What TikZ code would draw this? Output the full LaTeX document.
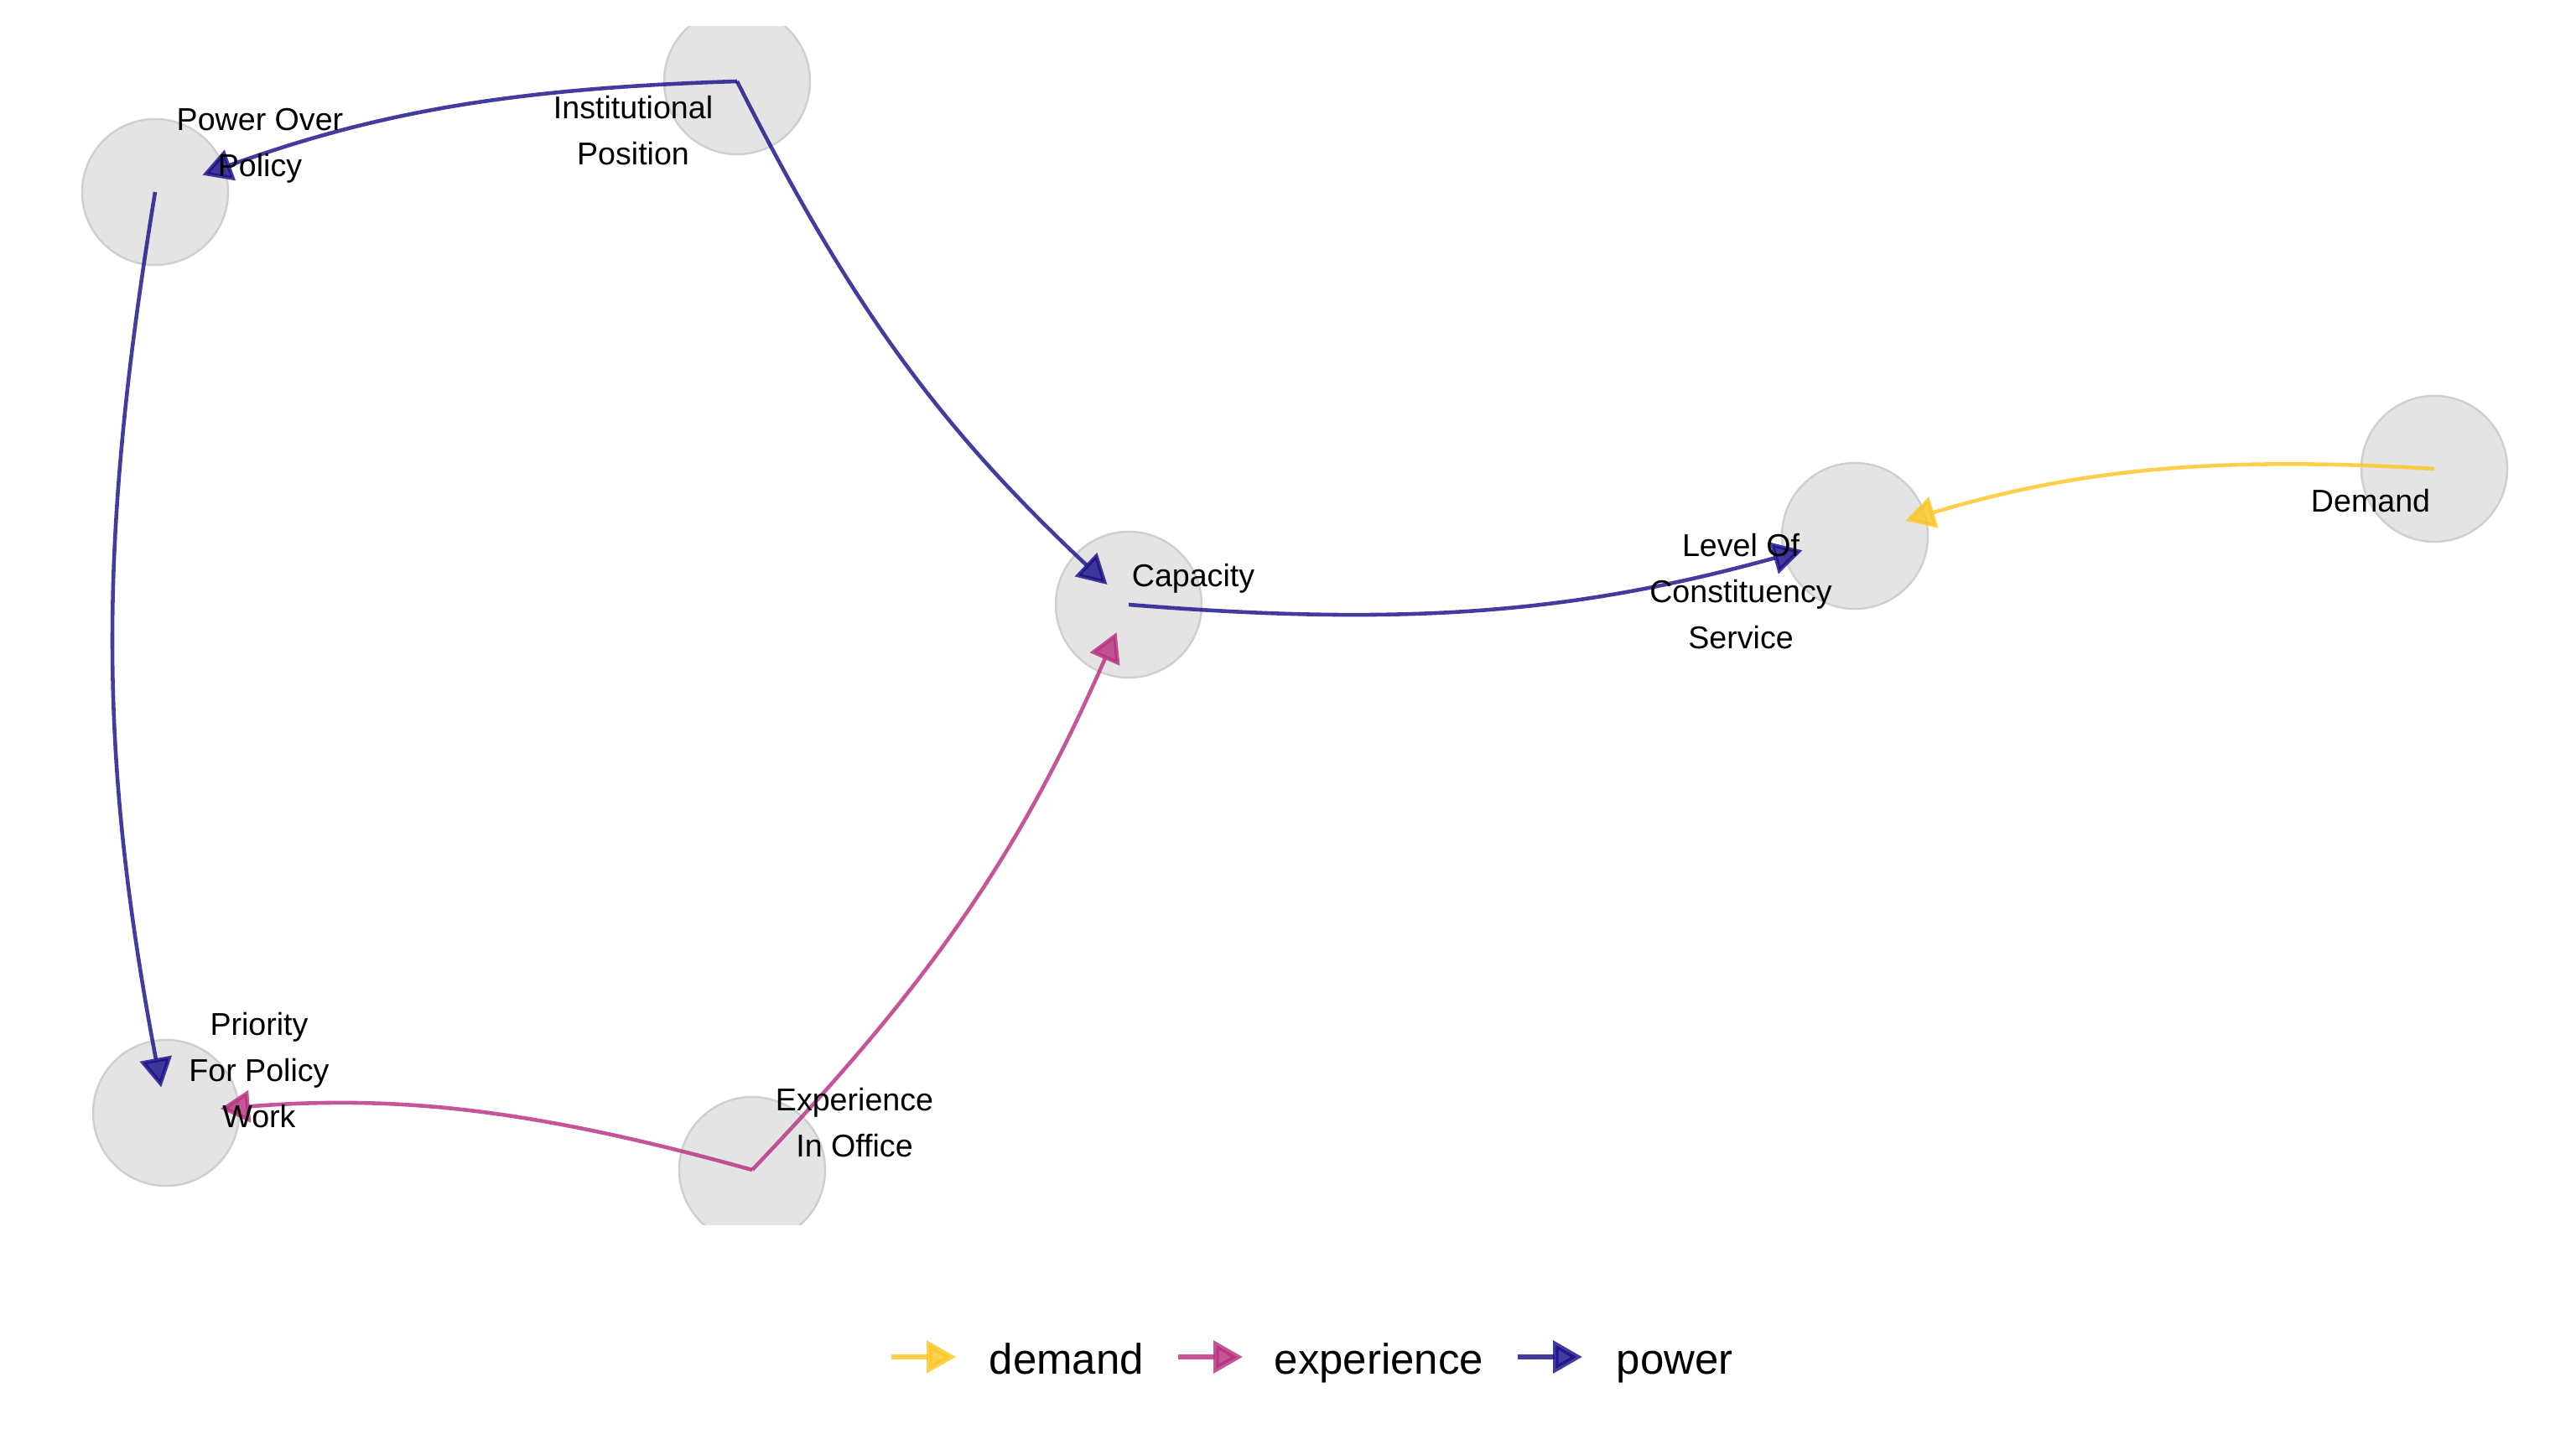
\documentclass[tikz,border=0pt]{standalone}
\usepackage{fontspec}
\setmainfont{Liberation Sans}
\usepackage{tikz}
\usetikzlibrary{arrows.meta}
\definecolor{nodefill}{HTML}{E4E4E4}
\definecolor{nodeline}{HTML}{CFCFCF}
\definecolor{demandcol}{HTML}{FCC526}
\definecolor{expcol}{HTML}{B8307F}
\definecolor{powercol}{HTML}{1A1088}
\tikzstyle{factor} = [
    circle,
    minimum size=1.74cm,
    inner sep=0pt,
    fill=nodefill,
    draw=nodeline,
    line width=0.7pt
]
\tikzstyle{lbl} = [
    align=center,
    inner sep=0pt,
    font=\fontsize{10.7}{15.65}\selectfont
]
\tikzstyle{link} = [
    -{Triangle[length=0.35cm, width=0.38cm]},
    line width=1.3pt,
    line join=round,
    opacity=0.82
]
\tikzstyle{demand} = [link, draw=demandcol]
\tikzstyle{experience} = [link, draw=expcol]
\tikzstyle{power} = [link, draw=powercol]
\tikzstyle{legtext} = [anchor=base west, inner sep=0pt, font=\fontsize{14.5}{17}\selectfont]

\begin{document}
\begin{tikzpicture}
        \useasboundingbox (0,0) rectangle (30.72,17.28);

        % Nodes (panel clips the top and bottom circles)
        \begin{scope}
            \clip (0.32,2.68) rectangle (30.40,16.96);
            \node[factor] (pol) at (1.85,14.99) {};
            \node[factor] (inst) at (8.79,16.31) {};
            \node[factor] (cap) at (13.46,10.07) {};
            \node[factor] (lvl) at (22.12,10.89) {};
            \node[factor] (dem) at (29.03,11.69) {};
            \node[factor] (pri) at (1.98,4.01) {};
            \node[factor] (exp) at (8.97,3.33) {};
        \end{scope}

        % Edges
        \draw[power, shorten >=0.60cm] (inst.center) to[bend right=9] (pol.center);
        \draw[power, shorten >=0.35cm] (inst.center) to[bend right=10] (cap.center);
        \draw[power, shorten >=0.31cm] (pol.center) to[bend right=10] (pri.center);
        \draw[power, shorten >=0.65cm] (cap.center) to[bend right=10] (lvl.center);
        \draw[demand, shorten >=0.63cm] (dem.center) to[bend right=10] (lvl.center);
        \draw[experience, shorten >=0.65cm] (exp.center) to[bend right=10] (pri.center);
        \draw[experience, shorten >=0.36cm] (exp.center) to[bend right=10] (cap.center);

        % Labels
        \node[lbl] (pol_lbl) at (3.10,15.54) {Power Over\\Policy};
        \node[lbl] (inst_lbl) at (7.55,15.72) {Institutional\\Position};
        \node[lbl] (cap_lbl) at (14.23,10.38) {Capacity};
        \node[lbl] (lvl_lbl) at (20.76,10.23) {Level Of\\Constituency\\Service};
        \node[lbl] (dem_lbl) at (28.27,11.31) {Demand};
        \node[lbl] (pri_lbl) at (3.09,4.52) {Priority\\For Policy\\Work};
        \node[lbl] (exp_lbl) at (10.19,3.895) {Experience\\In Office};

        % Legend
        \coordinate (leg_dem_a) at (10.63,1.10);
        \coordinate (leg_dem_b) at (11.40,1.10);
        \coordinate (leg_exp_a) at (14.05,1.10);
        \coordinate (leg_exp_b) at (14.82,1.10);
        \coordinate (leg_pow_a) at (18.10,1.10);
        \coordinate (leg_pow_b) at (18.87,1.10);
        \draw[demand, line width=1.9pt] (leg_dem_a) -- (leg_dem_b);
        \draw[experience, line width=1.9pt] (leg_exp_a) -- (leg_exp_b);
        \draw[power, line width=1.9pt] (leg_pow_a) -- (leg_pow_b);
        \node[legtext] (leg_dem) at (11.79,0.90) {demand};
        \node[legtext] (leg_exp) at (15.19,0.90) {experience};
        \node[legtext] (leg_pow) at (19.27,0.90) {power};
    \end{tikzpicture}
\end{document}
